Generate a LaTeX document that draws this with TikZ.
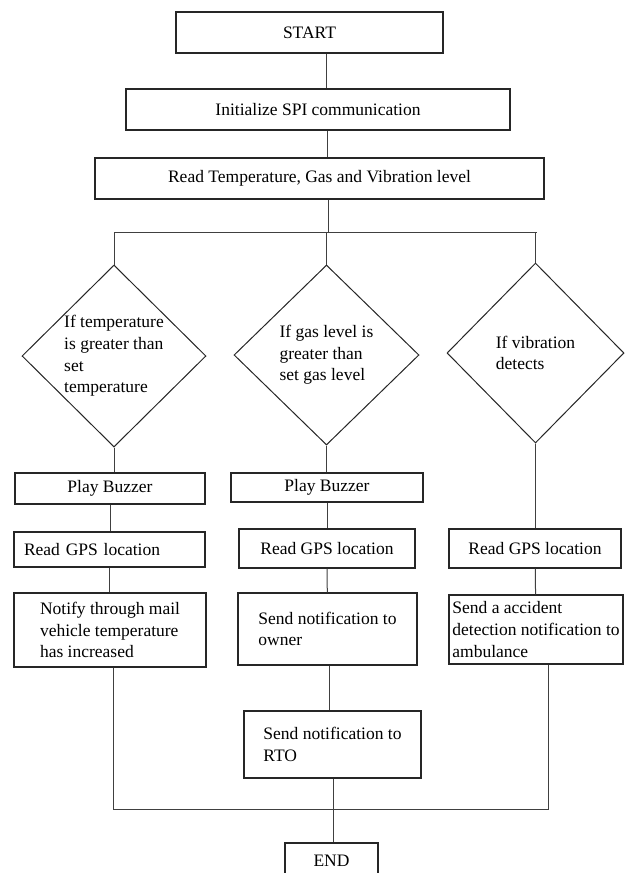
\documentclass[tikz,border=0pt]{standalone}
\usepackage{fontspec}
\setmainfont{Liberation Serif}
\usetikzlibrary{shapes}

\begin{document}
\begin{tikzpicture}[x=1pt, y=-1pt,
    font=\fontsize{17.5}{21.7}\selectfont,
    block/.style={rectangle, draw=black!85, line width=1.2pt, align=left},
    decision/.style={diamond, draw=black!85, line width=1pt, align=left, inner sep=-8pt},
    flow/.style={draw=black!75, line width=1pt}]

    \useasboundingbox (0,0) rectangle (625,873);

    \node[block, minimum width=267pt, minimum height=41pt] (start) at (309.5,32.5) {START};
    \node[block, minimum width=384pt, minimum height=41pt] (init) at (318,109.5) {Initialize SPI communication};
    \node[block, minimum width=449pt, minimum height=41pt] (read) at (319.5,178.5) {Read Temperature, Gas and Vibration level};

    \node[decision, minimum width=184pt, minimum height=182pt] (d1) at (114,356) {If temperature\\is greater than\\set\\temperature};
    \node[decision, minimum width=185pt, minimum height=180pt] (d2) at (326.5,355) {If gas level is\\greater than\\set gas level};
    \node[decision, minimum width=177pt, minimum height=180pt] (d3) at (535.5,353) {If vibration\\detects};

    \node[block, minimum width=190pt, minimum height=31pt] (buz1) at (110,488.5) {Play Buzzer};
    \node[block, minimum width=192pt, minimum height=29pt] (buz2) at (327,487.5) {Play Buzzer};

    \node[block, text width=171pt, inner xsep=10pt, minimum height=35pt] (gps1) at (109.5,549.5) {Read GPS location};
    \node[block, minimum width=176pt, minimum height=39pt] (gps2) at (327,548.5) {Read GPS location};
    \node[block, minimum width=172pt, minimum height=39pt] (gps3) at (535,548.5) {Read GPS location};

    \node[block, minimum width=192pt, minimum height=74pt] (mail) at (110,630) {Notify through mail\\vehicle temperature\\has increased};
    \node[block, minimum width=179pt, minimum height=72pt] (owner) at (327.5,629) {Send notification to\\owner};
    \node[block, minimum width=174pt, minimum height=69pt] (amb) at (536,629.5) {Send a accident\\detection notification to\\ambulance};
    \node[block, minimum width=177pt, minimum height=67pt] (rto) at (332.5,744.5) {Send notification to\\RTO};
    \node[block, minimum width=93pt, minimum height=36pt] (stop) at (331.5,861) {END};

    \coordinate (bus) at (328,232);
    \coordinate (busL) at (114,232);
    \coordinate (busR) at (537,232);
    \coordinate (join) at (333,809);
    \coordinate (joinL) at (113,809);
    \coordinate (joinR) at (548,809);

    \draw[flow] ([xshift=16.5pt]start.south) -- ([xshift=8pt]init.north);
    \draw[flow] ([xshift=9pt]init.south) -- ([xshift=7.5pt]read.north);
    \draw[flow] (read.south -| bus) -- (bus);
    \draw[flow] (busL) -- (busR);
    \draw[flow] (busL) -- (d1.north);
    \draw[flow] (d2.north |- bus) -- (d2.north);
    \draw[flow] (d3.north |- busR) -- (d3.north);
    \draw[flow] (d1.south) -- (d1.south |- buz1.north);
    \draw[flow] (buz1.south) -- (buz1.south |- gps1.north);
    \draw[flow] (gps1.south) -- (gps1.south |- mail.north);
    \draw[flow] (d2.south) -- (d2.south |- buz2.north);
    \draw[flow] (buz2) -- (gps2);
    \draw[flow] (gps2) -- (owner);
    \draw[flow] ([xshift=1.5pt]owner.south) -- ([xshift=-3.5pt]rto.north);
    \draw[flow] (d3.south) -- (gps3.north -| d3.south);
    \draw[flow] (gps3) -- (amb);
    \draw[flow] (mail.south -| joinL) -- (joinL) -- (joinR) -- (amb.south -| joinR);
    \draw[flow] (rto.south -| join) -- (stop.north -| join);
\end{tikzpicture}
\end{document}
